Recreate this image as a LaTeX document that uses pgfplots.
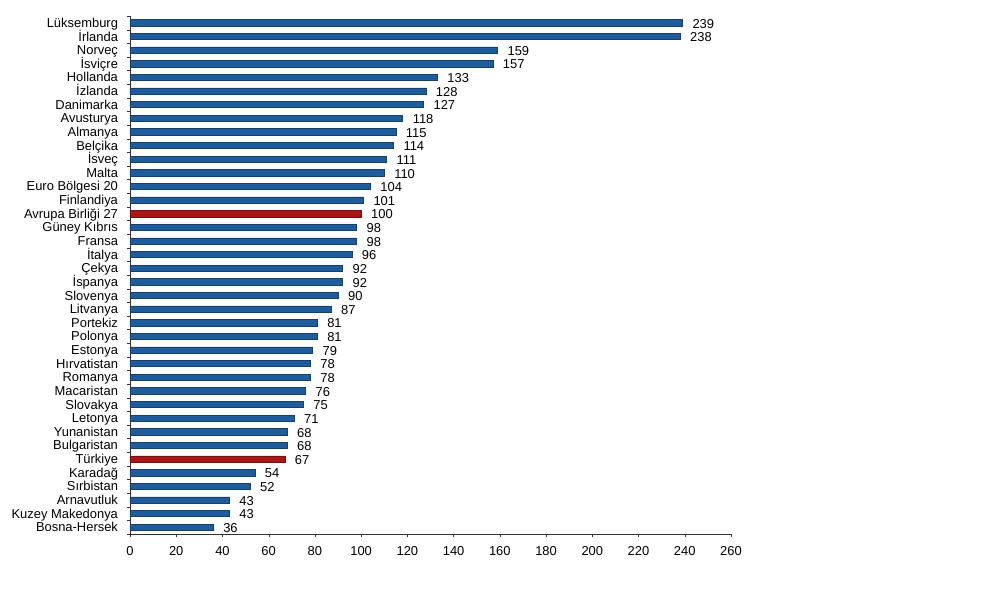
\documentclass[border=0pt]{standalone}
\usepackage{fontspec}
\setmainfont{Liberation Sans}
\usepackage{pgfplots}
\pgfplotsset{compat=1.18}
\definecolor{barblue}{RGB}{31,92,155}
\definecolor{barred}{RGB}{168,22,22}
\begin{document}
\begin{tikzpicture}
\useasboundingbox (0,0) rectangle (750pt,444.75pt);
\begin{axis}[
  at={(97.5pt,44.25pt)}, anchor=south west,
  scale only axis, width=450.75pt, height=388.5pt,
  xmin=0, xmax=260, ymin=-0.5, ymax=37.5, y dir=reverse,
  xbar, bar width=4.7pt, bar shift=0pt,
  axis x line*=bottom, axis y line*=left,
  tick align=outside, major tick length=2.5pt,
  xtick={0,20,...,260},
  ytick={-0.5,0.5,...,37.5}, yticklabels={},
  extra y ticks={0,1,...,37},
  extra y tick labels={Lüksemburg,İrlanda,Norveç,İsviçre,Hollanda,İzlanda,Danimarka,Avusturya,Almanya,Belçika,İsveç,Malta,Euro Bölgesi 20,Finlandiya,Avrupa Birliği 27,Güney Kıbrıs,Fransa,İtalya,Çekya,İspanya,Slovenya,Litvanya,Portekiz,Polonya,Estonya,Hırvatistan,Romanya,Macaristan,Slovakya,Letonya,Yunanistan,Bulgaristan,Türkiye,Karadağ,Sırbistan,Arnavutluk,Kuzey Makedonya,Bosna-Hersek},
  extra y tick style={tick style={draw=none}},
  /pgf/number format/assume math mode=true,
  tick label style={font=\fontsize{9.7}{11}\selectfont, text=black},
  yticklabel style={xshift=-3pt, anchor=east, text height=1.55ex, text depth=0.25ex},
  xticklabel style={yshift=-3pt},
  axis line style={black!80},
  tick style={black!80},
  nodes near coords,
  every node near coord/.append style={font=\fontsize{9.7}{11}\selectfont, xshift=4pt, text=black, anchor=west, text height=1.55ex, text depth=0.25ex, yshift=-0.5pt},
  clip=false,
]
\addplot[fill=barblue, draw=barblue!70!black] coordinates {
(239,0) (238,1) (159,2) (157,3) (133,4) (128,5) (127,6) (118,7) (115,8) (114,9)
(111,10) (110,11) (104,12) (101,13) (98,15) (98,16) (96,17) (92,18) (92,19)
(90,20) (87,21) (81,22) (81,23) (79,24) (78,25) (78,26) (76,27) (75,28) (71,29)
(68,30) (68,31) (54,33) (52,34) (43,35) (43,36) (36,37)
};
\addplot[fill=barred, draw=barred!70!black] coordinates {
(100,14) (67,32)
};
\end{axis}
\end{tikzpicture}
\end{document}
